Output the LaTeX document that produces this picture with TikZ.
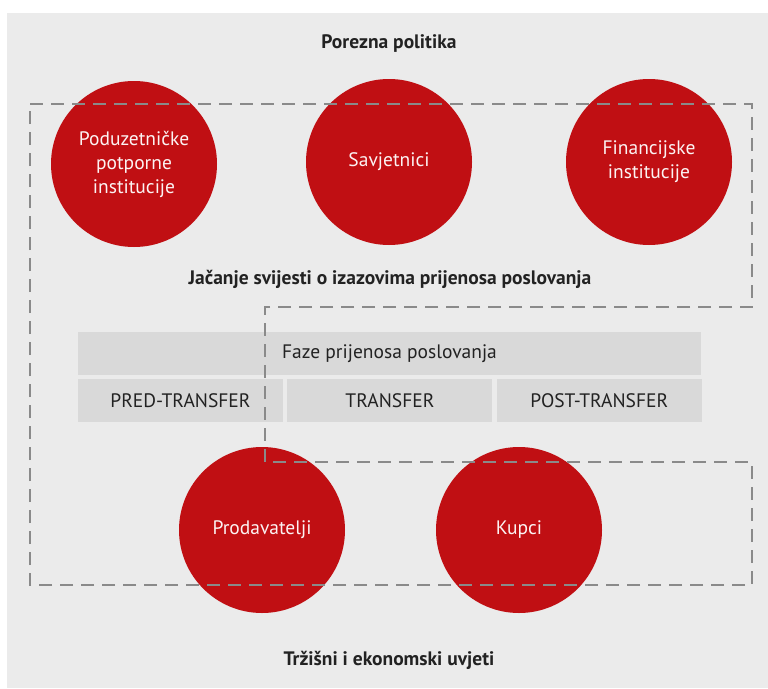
\documentclass[tikz,border=0pt]{standalone}
\usepackage{fontspec}
\setmainfont{PT Sans}
\usepackage{tikz}
\usetikzlibrary{positioning}
\definecolor{ink}{HTML}{222222}
\definecolor{brick}{HTML}{C00F13}
\definecolor{paper}{HTML}{EBEBEB}
\definecolor{barfill}{HTML}{D9D9D9}
\definecolor{frameline}{HTML}{8A8A8A}

\tikzset{
  actor/.style={circle, fill=brick, minimum size=166pt, inner sep=0pt, text=white!95!brick,
    align=center, font=\fontsize{19.5}{24}\selectfont},
  phase/.style={fill=barfill, minimum height=43pt, inner sep=0pt, text=ink,
    font=\fontsize{19.5}{22}\selectfont},
  heading/.style={text=ink, font=\bfseries\fontsize{19.5}{22}\selectfont},
}

\begin{document}
\begin{tikzpicture}[x=1pt, y=-1pt]
      \useasboundingbox (0,0) rectangle (768,688);
      \fill[paper] (7,13) rectangle (768,688);
      \node[heading] (tax) at (389,44) {Porezna politika};
      \node[actor] (support) at (134,164) {Poduzetničke\\potporne\\institucije};
      \node[actor] (advisors) at (389,162) {Savjetnici};
      \node[actor] (finance) at (649,162) {Financijske\\institucije};
      \node[heading] (awareness) at (390,279) {Jačanje svijesti o izazovima prijenosa poslovanja};
      \node[phase, minimum width=623pt] (phases) at (389.5,353.5) {Faze prijenosa poslovanja};
      \node[phase, minimum width=205pt, below right=4pt and 0pt of phases.south west] (pre) {PRED-TRANSFER};
      \node[phase, minimum width=205pt, right=4pt of pre] (transfer) {TRANSFER};
      \node[phase, minimum width=205pt, right=4pt of transfer] (post) {POST-TRANSFER};
      \node[actor] (sellers) at (262,530) {Prodavatelji};
      \node[actor] (buyers) at (519,530) {Kupci};
      \node[heading] (market) at (389,660) {Tržišni i ekonomski uvjeti};
      % dashed frame, drawn over the circles
      \draw[frameline, line width=2.5pt, dash pattern=on 13pt off 8pt]
        (30,104) -- (752,104) -- (752,307) -- (265,307) -- (265,462)
        -- (752,462) -- (752,585) -- (30,585) -- cycle;
    \end{tikzpicture}
\end{document}
